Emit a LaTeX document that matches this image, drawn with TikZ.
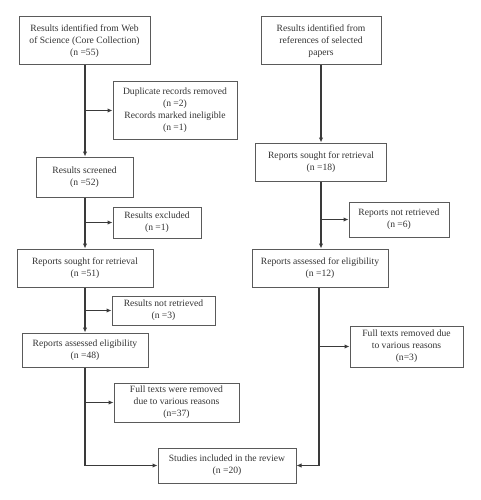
\documentclass[tikz,border=0pt]{standalone}
\usepackage{fontspec}
\setmainfont{Liberation Serif}
\usetikzlibrary{arrows.meta}
\definecolor{ln}{HTML}{3A3A3A}
\definecolor{bx}{HTML}{5A5A5A}
\definecolor{tx}{HTML}{333333}
\tikzset{
  box/.style={draw=bx, line width=1pt, align=center, text=tx, inner sep=2pt,
    font=\fontsize{9.6}{12}\selectfont},
  conn/.style={draw=ln, line width=1.2pt, -{Latex[length=5pt,width=4.5pt]}},
  plain/.style={draw=ln, line width=1.2pt}
}
\begin{document}
\begin{tikzpicture}[x=1pt,y=-1pt]
\useasboundingbox (0,0) rectangle (480,500);
\node[box, minimum width=131pt, minimum height=48pt] (wos) at (84.5,41) {Results identified from Web\\of Science (Core Collection)\\(n =55)};
\node[box, minimum width=124pt, minimum height=57pt] (dup) at (175,110.5) {Duplicate records removed\\(n =2)\\Records marked ineligible\\(n =1)};
\node[box, minimum width=97pt, minimum height=40pt] (scr) at (84.5,177) {Results screened\\(n =52)};
\node[box, minimum width=88pt, minimum height=31pt] (exc) at (157,222.5) {Results excluded\\(n =1)};
\node[box, minimum width=136pt, minimum height=38pt] (rep51) at (85,268) {Reports sought for retrieval\\(n =51)};
\node[box, minimum width=103pt, minimum height=29pt] (nret) at (163.5,310.5) {Results not retrieved\\(n =3)};
\node[box, minimum width=126pt, minimum height=34pt] (elig48) at (85,350) {Reports assessed eligibility\\(n =48)};
\node[box, minimum width=125pt, minimum height=39pt] (full37) at (176.5,402.5) {Full texts were removed\\due to various reasons\\(n=37)};
\node[box, minimum width=138pt, minimum height=35pt] (stud) at (227,465.5) {Studies included in the review\\(n =20)};
\node[box, minimum width=120pt, minimum height=48pt] (refs) at (321,41) {Results identified from\\references of selected\\papers};
\node[box, minimum width=131pt, minimum height=38pt] (rep18) at (321,162) {Reports sought for retrieval\\(n =18)};
\node[box, minimum width=100pt, minimum height=35pt] (nret6) at (399,219.5) {Reports not retrieved\\(n =6)};
\node[box, minimum width=136pt, minimum height=38pt] (elig12) at (320,268) {Reports assessed for eligibility\\(n =12)};
\node[box, minimum width=113pt, minimum height=41pt] (full3) at (406.5,346.5) {Full texts removed due\\to various reasons\\(n=3)};
% left column
\draw[conn] (wos.south -| 85,0) -- (scr.north -| 85,0);
\draw[conn] (85,110.5) -- (dup.west);
\draw[conn] (scr.south -| 85,0) -- (rep51.north -| 85,0);
\draw[conn] (85,222.5) -- (exc.west);
\draw[conn] (rep51.south -| 85,0) -- (elig48.north -| 85,0);
\draw[conn] (85,310.5) -- (nret.west);
\coordinate (lc) at (85,465.5);
\draw[conn] (elig48.south -| 85,0) -- (lc) -- (stud.west);
\draw[conn] (85,402.5) -- (full37.west);
% right column
\draw[conn] (refs.south -| 321,0) -- (rep18.north -| 321,0);
\draw[conn] (rep18.south -| 321,0) -- (elig12.north -| 321,0);
\draw[conn] (321,219.5) -- (nret6.west);
\coordinate (rc) at (319,465.5);
\draw[conn] (elig12.south -| 319,0) -- (rc) -- (stud.east);
\draw[conn] (319,346.5) -- (full3.west);
\end{tikzpicture}
\end{document}
